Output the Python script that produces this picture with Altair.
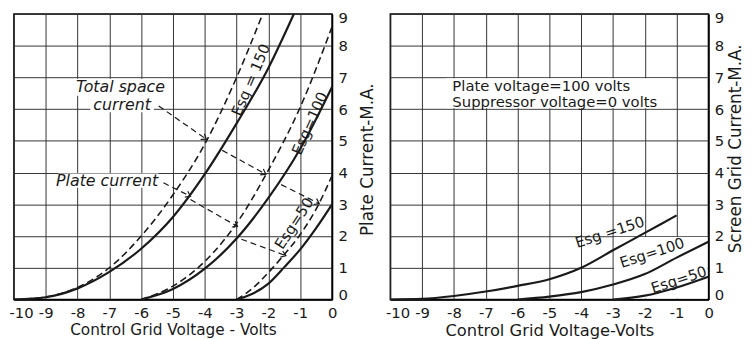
import altair as alt
import pandas as pd
import numpy as np

# ---------------- data ----------------
x_ticks = list(range(-10, 1))
y_ticks = list(range(0, 10))

# Left panel: plate current (solid) and total space current (dashed)
pc150_x = [-10, -9, -8, -7, -6, -5, -4, -3, -2, -1.2]
pc150_y = [0, 0.07, 0.35, 0.87, 1.6, 2.6, 3.95, 5.55, 7.3, 9.0]
ts150_x = [-10, -9, -8, -7, -6, -5, -4, -3, -2.18]
ts150_y = [0, 0.08, 0.38, 1.0, 2.0, 3.3, 4.9, 7.0, 9.0]

pc100_x = [-6, -5, -4, -3, -2, -1, 0]
pc100_y = [0, 0.33, 0.97, 1.92, 3.2, 4.75, 6.7]
ts100_x = [-6, -5, -4, -3, -2, -1, 0]
ts100_y = [0, 0.42, 1.2, 2.4, 4.08, 6.06, 8.6]

pc50_x = [-3, -2.5, -2, -1.5, -1, -0.5, 0]
pc50_y = [0, 0.18, 0.5, 1.02, 1.58, 2.25, 3.0]
ts50_x = [-3, -2.5, -2, -1.5, -1, -0.5, 0]
ts50_y = [0, 0.35, 0.85, 1.42, 2.05, 2.85, 3.9]

# Right panel: screen grid current
sg150_x = [-10, -9, -8, -7, -6, -5, -4, -3, -2, -1]
sg150_y = [0, 0.02, 0.11, 0.25, 0.43, 0.64, 1.0, 1.55, 2.1, 2.65]
sg100_x = [-6, -5, -4, -3, -2, -1, 0]
sg100_y = [0, 0.09, 0.23, 0.47, 0.8, 1.32, 1.82]
sg50_x = [-3, -2, -1, 0]
sg50_y = [0, 0.12, 0.38, 0.72]

# Curve labels
left_lab_text = ["Esg = 150", "Esg=100", "Esg=50"]
left_lab_x = [-2.55, -0.7, -1.19]
left_lab_y = [6.92, 5.55, 2.4]
left_lab_angle = [293, 294, 303]

note_text = ["Total space", "current", "Plate current"]
note_x = [-6.65, -6.6, -7.07]
note_y = [6.69, 6.14, 3.74]

right_lab_text = ["Esg =150", "Esg=100", "Esg=50"]
right_lab_x = [-3.1, -1.77, -0.93]
right_lab_y = [2.12, 1.47, 0.62]
right_lab_angle = [342, 342, 342]

cond_text = ["Plate voltage=100 volts", "Suppressor voltage=0 volts"]
cond_x = [-8.05, -8.05]
cond_y = [6.72, 6.22]

# Leader lines (start -> arrow end)
lead_x1 = [-5.45, -3.45, -1.6, -5.3, -4.45, -2.85]
lead_y1 = [6.1, 4.7, 3.62, 3.68, 3.15, 1.9]
lead_x2 = [-3.95, -2.08, -0.4, -4.45, -2.97, -1.45]
lead_y2 = [5.05, 3.95, 3.02, 3.25, 2.3, 1.38]

# grid-free areas behind lettering
blank_l_x1 = [-8.1, -7.6, -8.6]
blank_l_x2 = [-5.2, -5.6, -5.45]
blank_l_y1 = [6.42, 5.9, 3.52]
blank_l_y2 = [6.96, 6.42, 3.97]
blank_r_x1 = [-8.25, -2.97]
blank_r_x2 = [-1.15, -0.03]
blank_r_y1 = [6.03, 0.03]
blank_r_y2 = [6.97, 1.97]

# ---------------- build frames ----------------
def cdf(xs, ys, key):
    return pd.DataFrame({"x": xs, "y": ys, "key": key})

left_solid = pd.concat([cdf(pc150_x, pc150_y, "150"), cdf(pc100_x, pc100_y, "100"), cdf(pc50_x, pc50_y, "50")])
left_dash = pd.concat([cdf(ts150_x, ts150_y, "150"), cdf(ts100_x, ts100_y, "100"), cdf(ts50_x, ts50_y, "50")])
right_solid = pd.concat([cdf(sg150_x, sg150_y, "150"), cdf(sg100_x, sg100_y, "100"), cdf(sg50_x, sg50_y, "50")])

left_labels = pd.DataFrame({"x": left_lab_x, "y": left_lab_y, "t": left_lab_text, "a": left_lab_angle})
notes = pd.DataFrame({"x": note_x, "y": note_y, "t": note_text})
right_labels = pd.DataFrame({"x": right_lab_x, "y": right_lab_y, "t": right_lab_text, "a": right_lab_angle})
cond = pd.DataFrame({"x": cond_x, "y": cond_y, "t": cond_text})

PX_X = 322 / 10.0
PX_Y = 289 / 9.0
leads = pd.DataFrame({"x": lead_x1, "y": lead_y1, "x2": lead_x2, "y2": lead_y2})
leads["ang"] = np.mod(np.degrees(np.arctan2(-(leads["y2"] - leads["y"]) * PX_Y,
                                            (leads["x2"] - leads["x"]) * PX_X)), 360)
heads = pd.DataFrame({"x": leads["x2"], "y": leads["y2"], "ang": leads["ang"]})

blanks_l = pd.DataFrame({"x": blank_l_x1, "x2": blank_l_x2, "y": blank_l_y1, "y2": blank_l_y2})
blanks_r = pd.DataFrame({"x": blank_r_x1, "x2": blank_r_x2, "y": blank_r_y1, "y2": blank_r_y2})

FONT = "DejaVu Sans"
W, H = 322, 289
INK = "#1a1a1a"


def enc_x(title, tsize):
    return alt.X("x:Q", scale=alt.Scale(domain=[-10, 0], nice=False, zero=False),
                 axis=alt.Axis(values=x_ticks, title=title, ticks=False, labelPadding=6,
                               labelFontSize=15, titleFontSize=tsize, titlePadding=2,
                               labelOverlap=False, labelFlush=True, labelFlushOffset=5, grid=True,
                               labelExpr="toString(datum.value)"))


def enc_y(title, tx, ty):
    return alt.Y("y:Q", scale=alt.Scale(domain=[0, 9], nice=False),
                 axis=alt.Axis(values=y_ticks, title=title, orient="right", ticks=False,
                               labelPadding=6, labelFontSize=15, titleFontSize=17,
                               titleAngle=270, titleX=tx, titleY=ty, titleAlign="center",
                               titleBaseline="middle", labelOverlap=False, labelFlush=True,
                               labelFlushOffset=3, grid=True, labelExpr="toString(datum.value)"))


ANG = alt.Angle("a:Q", scale=None)


def panel(xt, xts, yt, tx, ty, solid, dash, labels, texts, italic, leads_df, heads_df, blank_df):
    X = enc_x(xt, xts)
    Y = enc_y(yt, tx, ty)
    tsize = 16 if italic else 15
    tstyle = "italic" if italic else "normal"
    talign = "center" if italic else "left"
    layers = [alt.Chart(blank_df).mark_rect(fill="white").encode(x=X, x2="x2:Q", y=Y, y2="y2:Q")]
    if dash is not None:
        layers.append(alt.Chart(dash).mark_line(color=INK, strokeWidth=1.6, strokeDash=[7, 4],
                                                interpolate="monotone").encode(
            x=X, y=Y, detail="key:N"))
    layers.append(alt.Chart(solid).mark_line(color=INK, strokeWidth=2.2,
                                             interpolate="monotone").encode(
        x=X, y=Y, detail="key:N"))
    if leads_df is not None:
        layers.append(alt.Chart(leads_df).mark_rule(color=INK, strokeWidth=1.2, strokeDash=[6, 4]).encode(
            x=X, y=Y, x2="x2:Q", y2="y2:Q"))
        layers.append(alt.Chart(heads_df).mark_point(shape="M-1,-0.7L0,0L-1,0.7", filled=False,
                                                     color=INK, strokeWidth=1.2, size=90, opacity=1).encode(
            x=X, y=Y, angle=alt.Angle("ang:Q", scale=None)))
    layers.append(alt.Chart(labels).mark_text(font=FONT, fontSize=15, color=INK).encode(
        x=X, y=Y, text="t:N", angle=ANG))
    layers.append(alt.Chart(texts).mark_text(font=FONT, fontSize=tsize, fontStyle=tstyle,
                                             align=talign, color=INK).encode(x=X, y=Y, text="t:N"))
    return alt.layer(*layers).properties(width=W, height=H)


left = panel("Control Grid Voltage - Volts", 15.5, "Plate Current-M.A.", 36, 147,
             left_solid, left_dash, left_labels, notes, True, leads, heads, blanks_l)
right = panel("Control Grid Voltage-Volts", 16.5, "Screen Grid Current-M.A.", 27, 136,
              right_solid, None, right_labels, cond, False, None, None, blanks_r)

chart = alt.hconcat(left, right, spacing=8).properties(
    padding={"left": 0, "top": -2, "right": 0, "bottom": 0}
).configure_view(stroke="black", strokeWidth=1.5).configure_axis(
    labelFont=FONT, titleFont=FONT, labelColor=INK, titleColor=INK, titleFontWeight="normal",
    gridColor="#333333", gridWidth=1, gridOpacity=1, domainColor="black", domainWidth=1.5
)

chart.save("out.html", embed_options={"renderer": "svg", "actions": False})
